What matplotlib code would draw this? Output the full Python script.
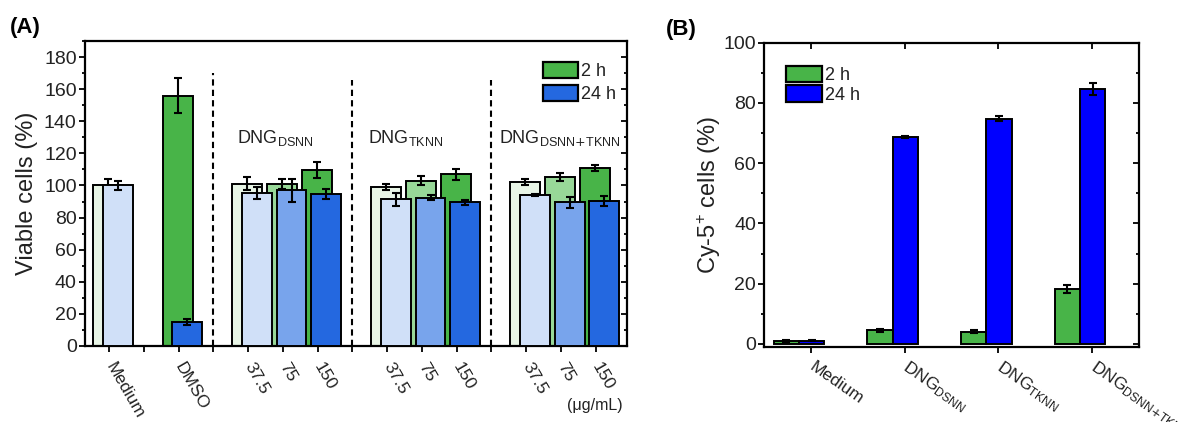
import numpy as np
import matplotlib
matplotlib.use("Agg")
import matplotlib.pyplot as plt
from matplotlib.patches import Patch
from matplotlib.ticker import MultipleLocator

plt.rcParams['font.family'] = ['Liberation Sans', 'DejaVu Sans']
plt.rcParams['mathtext.default'] = 'regular'

# ---- (A) viability ----
pos_a = [1, 3, 5, 6, 7, 9, 10, 11, 13, 14, 15]
labels_a = ['Medium', 'DMSO', '37.5', '75', '150', '37.5', '75', '150', '37.5', '75', '150']
via_2h = [100, 156, 101, 101, 109.5, 99, 103, 107, 102, 105, 111]
via_2h_err = [4, 11, 4, 3, 5, 2, 3, 3.3, 2, 2.5, 2]
via_24h = [100, 15, 95.5, 97, 94.5, 91.5, 92.5, 89.5, 94, 89.5, 90.5]
via_24h_err = [3, 2, 3.7, 7, 3, 4, 1.7, 1.7, 0.5, 3.5, 3]
col_2h = ['#e8f5e6', '#48b448', '#e8f5e6', '#98d898', '#48b448',
          '#e8f5e6', '#98d898', '#48b448', '#e8f5e6', '#98d898', '#48b448']
col_24h = ['#d0e0f8', '#2468e0', '#d0e0f8', '#78a4ec', '#2468e0',
           '#d0e0f8', '#78a4ec', '#2468e0', '#d0e0f8', '#78a4ec', '#2468e0']
groups = [r'DNG$_{DSNN}$', r'DNG$_{TKNN}$', r'DNG$_{DSNN\text{+}TKNN}$']
group_x = [4.67, 8.44, 12.22]
sep_x = [4, 8, 12]
sep_top = [170, 166, 166]

# ---- (B) uptake ----
cats_b = [r'Medium', r'DNG$_{DSNN}$', r'DNG$_{TKNN}$', r'DNG$_{DSNN\text{+}TKNN}$']
cy_2h = [0.9, 4.6, 4.1, 18.2]
cy_2h_err = [0.3, 0.5, 0.4, 1.3]
cy_24h = [1.1, 68.6, 74.8, 84.6]
cy_24h_err = [0.2, 0.3, 0.8, 2.0]

txt = '#222222'
fig = plt.figure(figsize=(11.78, 4.22), dpi=100)
ax = fig.add_axes([0.0722, 0.1801, 0.4603, 0.7227])
bx = fig.add_axes([0.6488, 0.1777, 0.3181, 0.7211])

lw = 1.4
ekw = dict(fmt='none', ecolor='black', elinewidth=1.5, capsize=3, capthick=1.5)

xa = np.array(pos_a, dtype=float)
w = 0.86
ax.bar(xa - 0.02, via_2h, w, color=col_2h, edgecolor='black', linewidth=lw, zorder=2)
ax.errorbar(xa - 0.02, via_2h, yerr=via_2h_err, zorder=3, **ekw)
ax.bar(xa + 0.25, via_24h, w, color=col_24h, edgecolor='black', linewidth=lw, zorder=4)
ax.errorbar(xa + 0.25, via_24h, yerr=via_24h_err, zorder=5, **ekw)

for sx, st in zip(sep_x, sep_top):
    ax.plot([sx, sx], [0, st], color='black', lw=1.5, ls=(0, (3, 2)), zorder=1)
for gx, g in zip(group_x, groups):
    ax.text(gx, 129.5, g, fontsize=13, ha='left', va='center', color=txt)

ax.set_xlim(0.31, 15.91)
ax.set_ylim(0, 190)
ax.set_xticks(range(1, 16))
ax.set_xticklabels(['' if i not in pos_a else labels_a[pos_a.index(i)] for i in range(1, 16)],
                   rotation=-60, ha='left', va='center', rotation_mode='anchor',
                   fontsize=12.5, color=txt)
ax.yaxis.set_major_locator(MultipleLocator(20))
ax.yaxis.set_minor_locator(MultipleLocator(10))
ax.tick_params(axis='y', which='both', direction='out', right=True, labelsize=14,
               labelcolor=txt, width=1.3, pad=1.5)
ax.tick_params(axis='y', which='major', length=4.5)
ax.tick_params(axis='y', which='minor', length=2.5)
ax.tick_params(axis='x', direction='out', length=4.5, width=1.3, pad=8)
for t in ax.yaxis.get_ticklines(minor=False)[1::2] + ax.yaxis.get_ticklines(minor=True)[1::2]:
    t.set_marker(matplotlib.lines.TICKLEFT)
ax.set_ylabel('Viable cells (%)', fontsize=17, labelpad=4, color=txt)
for s in ax.spines.values():
    s.set_linewidth(1.6)
ax.legend(handles=[Patch(facecolor='#48b448', edgecolor='black', linewidth=1.6, label='2 h'),
                   Patch(facecolor='#2468e0', edgecolor='black', linewidth=1.6, label='24 h')],
          loc='upper right', bbox_to_anchor=(1.0, 0.968), frameon=False, fontsize=13,
          handlelength=1.95, handleheight=1.0, handletextpad=0.2, labelspacing=0.28,
          borderaxespad=0.2, labelcolor=txt)
fig.text(0.505, 0.04, '(μg/mL)', fontsize=11.5, ha='center', va='center', color=txt)

# panel B
xb = np.arange(1, len(cats_b) + 1)
wb = 0.27
bx.bar(xb - 0.265, cy_2h, wb, color='#48b448', edgecolor='black', linewidth=lw, zorder=2)
bx.errorbar(xb - 0.265, cy_2h, yerr=cy_2h_err, zorder=3, **ekw)
bx.bar(xb + 0.005, cy_24h, wb, color='#0000ff', edgecolor='black', linewidth=lw, zorder=2)
bx.errorbar(xb + 0.005, cy_24h, yerr=cy_24h_err, zorder=3, **ekw)
bx.set_xlim(0.5, 4.5)
bx.set_ylim(-1, 100)
bx.set_xticks(xb)
bx.set_xticklabels(cats_b, rotation=-35, ha='left', va='center', rotation_mode='anchor',
                   fontsize=12.5, color=txt)
bx.yaxis.set_major_locator(MultipleLocator(20))
bx.yaxis.set_minor_locator(MultipleLocator(10))
bx.tick_params(axis='y', which='both', direction='out', right=True, labelsize=14,
               labelcolor=txt, width=1.3, pad=1.5)
bx.tick_params(axis='y', which='major', length=4.5)
bx.tick_params(axis='y', which='minor', length=2.5)
bx.tick_params(axis='x', direction='out', top=True, length=4.5, width=1.3, pad=9)
for t in bx.yaxis.get_ticklines(minor=False)[1::2] + bx.yaxis.get_ticklines(minor=True)[1::2]:
    t.set_marker(matplotlib.lines.TICKLEFT)
for t in bx.xaxis.get_ticklines()[1::2]:
    t.set_marker(matplotlib.lines.TICKDOWN)
bx.set_ylabel('Cy-5$^{+}$ cells (%)', fontsize=17, labelpad=0.5, color=txt)
for s in bx.spines.values():
    s.set_linewidth(1.6)
bx.legend(handles=[Patch(facecolor='#48b448', edgecolor='black', linewidth=1.6, label='2 h'),
                   Patch(facecolor='#0000ff', edgecolor='black', linewidth=1.6, label='24 h')],
          loc='upper left', bbox_to_anchor=(0.03, 0.96), frameon=False, fontsize=13,
          handlelength=1.95, handleheight=1.0, handletextpad=0.2, labelspacing=0.08,
          borderaxespad=0.2, labelcolor=txt)

fig.text(0.008, 0.936, '(A)', fontsize=16, fontweight='bold', ha='left', va='center')
fig.text(0.565, 0.93, '(B)', fontsize=16, fontweight='bold', ha='left', va='center')

fig.savefig('out.png', dpi=100)
